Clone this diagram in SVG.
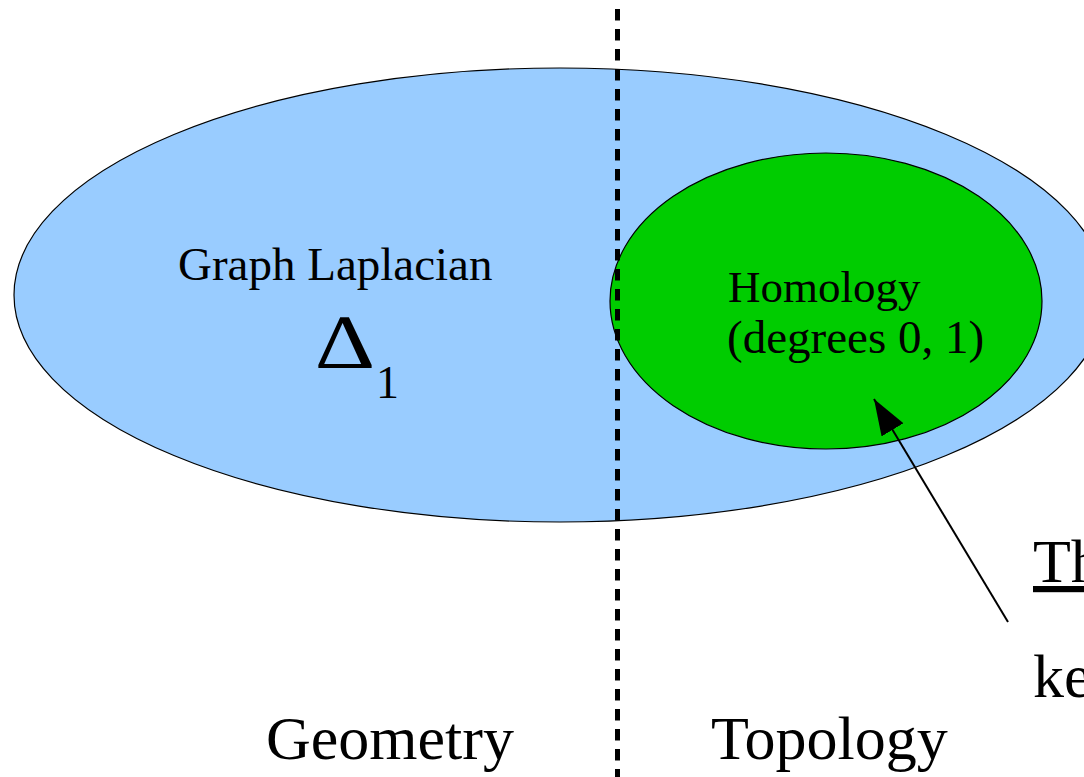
<svg xmlns="http://www.w3.org/2000/svg" width="1084" height="777" viewBox="0 0 1084 777">
<style>
.t{font-family:"Liberation Serif","Times New Roman",serif;fill:#000}
</style>
<defs>
<marker id="ah" markerUnits="userSpaceOnUse" markerWidth="40" markerHeight="30" refX="36" refY="12.75" orient="auto">
<path d="M0,0 L36,12.75 L0,25.5 z" fill="#000"/>
</marker>
</defs>
<rect width="1084" height="777" fill="#fff"/>
<g id="geometry-region">
<ellipse cx="560" cy="295" rx="546" ry="227" fill="#99ccff" stroke="#000" stroke-width="1.2"/>
<text class="t" x="178" y="280" font-size="47">Graph Laplacian</text>
<text class="t" transform="translate(316,368) scale(1.22,1)" x="0" y="0" font-size="77">∆</text>
<text class="t" x="376" y="398" font-size="46">1</text>
</g>
<g id="homology">
<ellipse cx="826" cy="301" rx="216" ry="148" fill="#00cc00" stroke="#000" stroke-width="1.2"/>
<text class="t" x="728" y="302" font-size="45">Homology</text>
<text class="t" x="727" y="353" font-size="47">(degrees 0, 1)</text>
</g>
<g id="divider">
<line x1="617.5" y1="9" x2="617.5" y2="777" stroke="#000" stroke-width="5" stroke-dasharray="11.5 8.5"/>
</g>
<g id="labels">
<text class="t" x="266" y="759" font-size="62">Geometry</text>
<text class="t" x="711" y="759" font-size="62">Topology</text>
<text class="t" x="1033" y="582" font-size="62" text-decoration="underline">Th</text>
<text class="t" x="1033" y="697" font-size="62">ke</text>
</g>
<g id="connectors">
<line x1="1008" y1="622" x2="874" y2="399" stroke="#000" stroke-width="2" marker-end="url(#ah)"/>
</g>
</svg>
